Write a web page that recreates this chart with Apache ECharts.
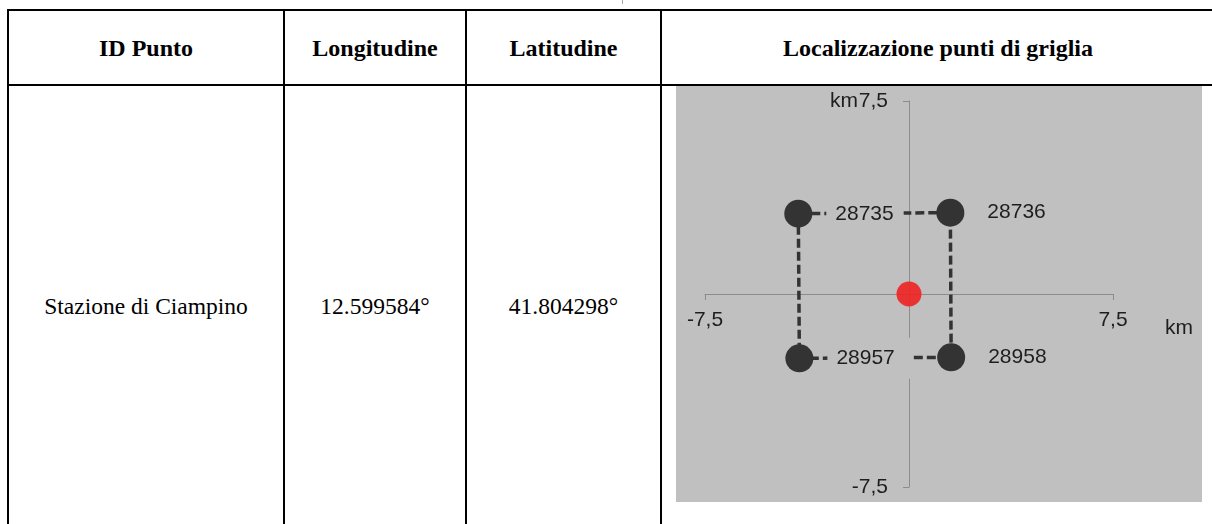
<!DOCTYPE html>
<html><head><meta charset="utf-8">
<script src="https://cdn.jsdelivr.net/npm/echarts@6/dist/echarts.min.js"></script>
<style>
html,body{margin:0;padding:0;background:#fff;width:1212px;height:524px;overflow:hidden;}
body{position:relative;}
.ln{position:absolute;background:#000;}
.t{position:absolute;font-family:'Liberation Serif','Times New Roman',serif;color:#000;white-space:nowrap;transform:translate(-50%,-50%);line-height:1;}
.h{font-weight:bold;font-size:24px;}
.b{font-size:23.5px;}
#chart{position:absolute;left:676px;top:86px;width:526px;height:416px;}
</style></head><body>
<div class="ln" style="left:621.5px;top:0;width:1px;height:4px;background:#aaa"></div>
<div class="ln" style="left:6.5px;top:9px;width:1212px;height:2px"></div>
<div class="ln" style="left:6.5px;top:84px;width:1212px;height:2px"></div>
<div class="ln" style="left:6.5px;top:9px;width:2px;height:520px"></div>
<div class="ln" style="left:283px;top:9px;width:2px;height:520px"></div>
<div class="ln" style="left:465px;top:9px;width:2px;height:520px"></div>
<div class="ln" style="left:660px;top:9px;width:2px;height:520px"></div>
<div id="cells"></div>
<div id="chart"></div>
<script>
// ---- data ----
const headers = ['ID Punto', 'Longitudine', 'Latitudine', 'Localizzazione punti di griglia'];
const rowValues = ['Stazione di Ciampino', '12.599584°', '41.804298°'];
const pointIds = ['28735', '28736', '28957', '28958'];
const pointX = [-4.07, 1.52, -4.03, 1.55];
const pointY = [3.12, 3.16, -2.50, -2.46];
const stationX = [0];
const stationY = [0];
const axisTickValues = [-7.5, 7.5];
const gridPath = [0, 1, 3, 2, 0];

// ---- table text ----
const colCenters = [146, 375, 563.5, 938];
const cells = document.getElementById('cells');
headers.forEach((h, i) => {
  const d = document.createElement('div');
  d.className = 't h';
  d.style.left = colCenters[i] + 'px';
  d.style.top = '48px';
  d.textContent = h;
  cells.appendChild(d);
});
rowValues.forEach((v, i) => {
  const d = document.createElement('div');
  d.className = 't b';
  d.style.left = colCenters[i] + 'px';
  d.style.top = '307px';
  d.textContent = v;
  cells.appendChild(d);
});

// ---- chart ----
const W = 526, H = 416;
const G = {left: 29, right: 89, top: 15, bottom: 15};
const fmt = v => String(v).replace('.', ',');
const axisColor = '#8c8c8c';
const txt = {fontFamily: "'Liberation Sans', Arial, sans-serif", fontSize: 21, color: '#1e1e1e'};
const chart = echarts.init(document.getElementById('chart'));
const pointData = pointIds.map((id, i) => {
  const item = {name: id, value: [pointX[i], pointY[i]]};
  if (i === 2) item.label = {padding: [10, 16, 10, 9]};
  return item;
});
chart.setOption({
  backgroundColor: '#c0c0c0',
  animation: false,
  grid: Object.assign({containLabel: false, outerBoundsMode: 'none'}, G),
  xAxis: {
    type: 'value', min: -7.5, max: 7.5, position: 'bottom',
    offset: -(H - G.top - G.bottom) / 2,
    name: 'km', nameLocation: 'end', nameGap: 52, nameMoveOverlap: false,
    nameTextStyle: Object.assign({}, txt, {align: 'left', verticalAlign: 'top', padding: [24, 0, 0, 0]}),
    axisLine: {show: true, onZero: false, lineStyle: {color: axisColor, width: 1}},
    axisTick: {show: true, length: 6, customValues: axisTickValues, lineStyle: {color: axisColor, width: 1}},
    axisLabel: Object.assign({}, txt, {customValues: axisTickValues, formatter: fmt, margin: 16}),
    splitLine: {show: false}
  },
  yAxis: {
    type: 'value', min: -7.5, max: 7.5, position: 'left',
    offset: -(W - G.left - G.right) / 2,
    name: 'km', nameLocation: 'end', nameGap: 0, nameMoveOverlap: false,
    nameTextStyle: Object.assign({}, txt, {align: 'right', verticalAlign: 'middle', padding: [0, 51, 0, 0]}),
    axisLine: {show: true, onZero: false, lineStyle: {color: axisColor, width: 1}},
    axisTick: {show: true, length: 6, customValues: axisTickValues, lineStyle: {color: axisColor, width: 1}},
    axisLabel: Object.assign({}, txt, {customValues: axisTickValues, formatter: fmt, margin: 21}),
    splitLine: {show: false}
  },
  series: [
    {
      type: 'line', z: 2, silent: true, symbol: 'none',
      data: gridPath.map(i => [pointX[i], pointY[i]]),
      lineStyle: {color: '#333333', width: 3.5, type: [9, 4]}
    },
    {
      type: 'scatter', z: 3, silent: true, symbolSize: 28,
      itemStyle: {color: '#333333', opacity: 1},
      data: pointData,
      label: Object.assign({}, txt, {
        show: true, position: 'right', distance: 14,
        formatter: p => p.name,
        backgroundColor: '#c0c0c0', padding: [6, 10, 6, 9]
      })
    },
    {
      type: 'scatter', z: 4, silent: true, symbolSize: 25,
      itemStyle: {color: 'rgb(240,34,34)', opacity: 0.9},
      data: stationX.map((x, i) => [x, stationY[i]])
    }
  ]
});
</script>
</body></html>
